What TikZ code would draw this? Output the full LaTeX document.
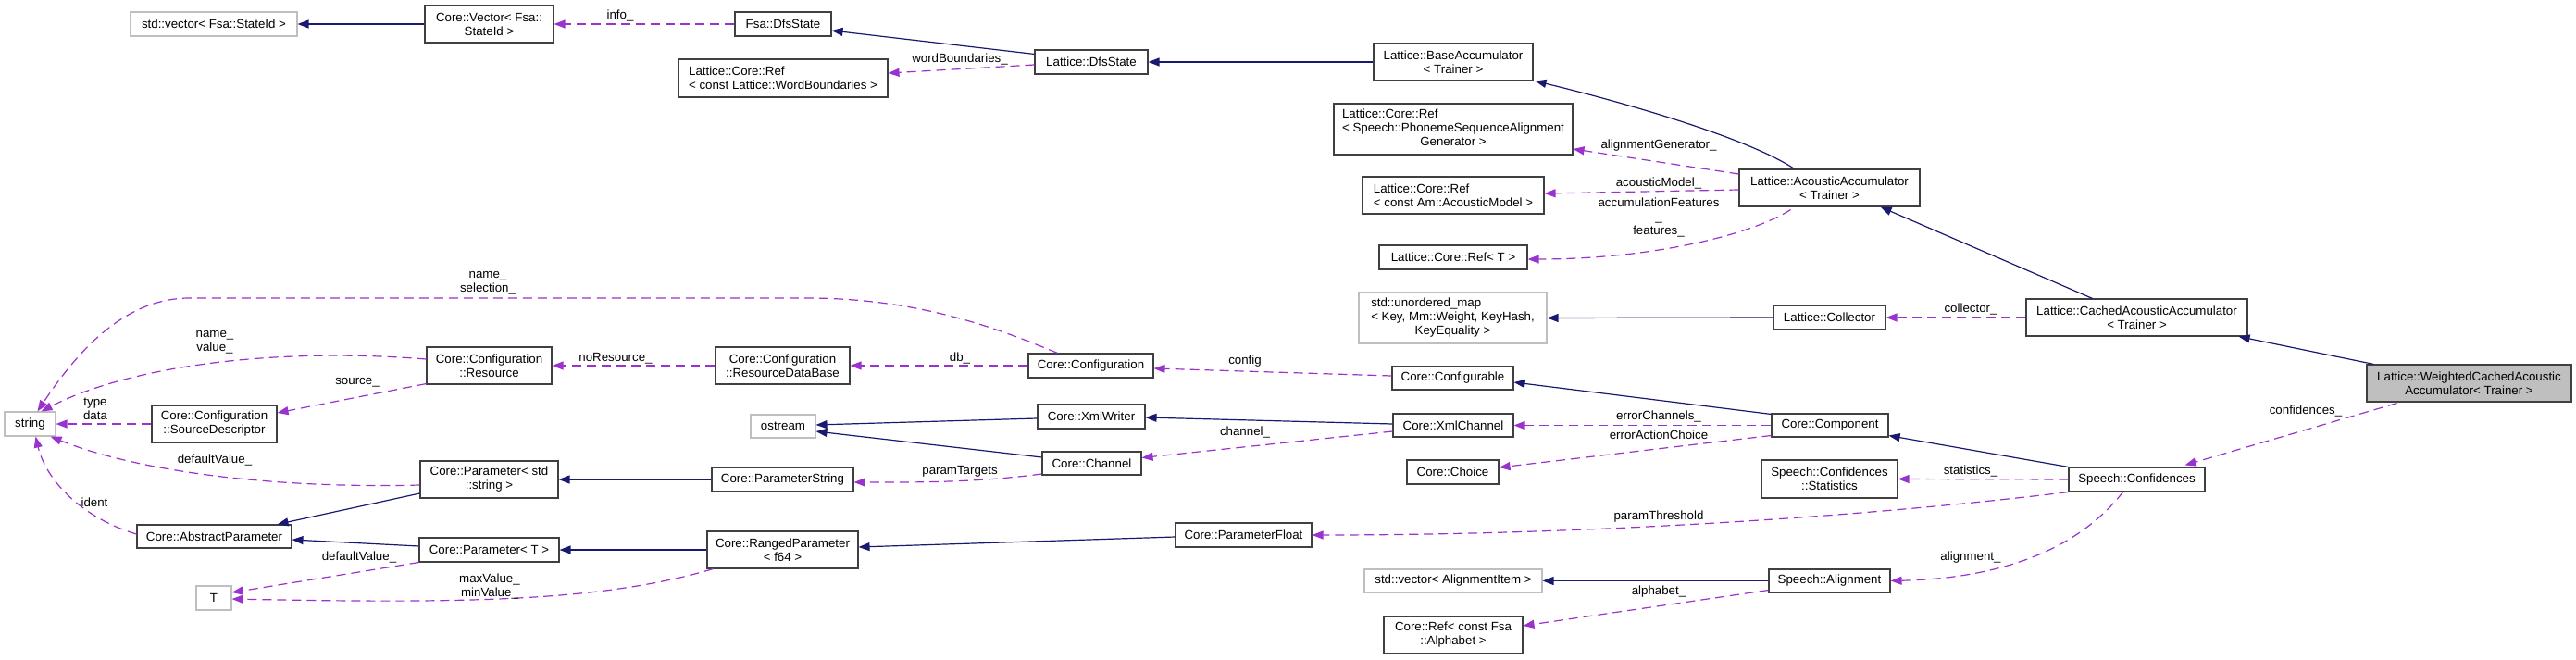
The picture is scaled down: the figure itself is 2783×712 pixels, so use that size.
\documentclass[tikz,border=0pt]{standalone}
\usepackage{fontspec}
\setmainfont{Liberation Sans}
\usetikzlibrary{arrows.meta,calc}
\definecolor{inhcol}{HTML}{191970}
\definecolor{usecol}{HTML}{9A32CD}
\definecolor{boxgray}{HTML}{BFBFBF}
\definecolor{boxline}{HTML}{404040}
\begin{document}
\begin{tikzpicture}[x=1pt,y=-1pt,
  box/.style={draw=boxline, line width=1.1pt, fill=white, inner sep=0pt, align=center,
              font=\fontsize{13.3}{15}\selectfont, text=black},
  ext/.style={box, draw=boxgray},
  sz/.style 2 args={minimum width=#1pt, minimum height=#2pt},
  lbl/.style={inner sep=0pt, align=center, font=\fontsize{13.3}{15}\selectfont, text=black},
  inh/.style={draw=inhcol, line width=1.2pt, -{Triangle[length=12pt,width=9pt]}},
  use/.style={draw=usecol, line width=1.2pt, dash pattern=on 10pt off 6pt, -{Triangle[length=12pt,width=9pt]}},
]
\path[use as bounding box, fill=white] (0,0) rectangle (2783,712);

% ---------- nodes ----------
\node[ext, sz={180}{26}] (vecStateId) at (231,26) {std::vector< Fsa::StateId >};
\node[box, sz={139}{40}] (coreVector) at (528.5,26) {Core::Vector< Fsa::\\StateId >};
\node[box, sz={104}{26}] (fsaDfs) at (846,26) {Fsa::DfsState};
\node[box, sz={226}{41}, align=left] (refWB) at (846,84.5) {Lattice::Core::Ref\\< const Lattice::WordBoundaries >};
\node[box, sz={122}{26}] (latDfs) at (1179,67) {Lattice::DfsState};
\node[box, sz={172}{40}] (baseAcc) at (1570,67) {Lattice::BaseAccumulator\\< Trainer >};
\node[box, sz={258}{55}] (refPSAG) at (1570,139.5) {\begin{tabular}{@{}l@{}}Lattice::Core::Ref\\< Speech::PhonemeSequenceAlignment\\\multicolumn{1}{@{}c@{}}{Generator >}\end{tabular}};
\node[box, sz={196}{40}, align=left] (refAM) at (1570,211) {Lattice::Core::Ref\\< const Am::AcousticModel >};
\node[box, sz={160}{26}] (refT) at (1570,278) {Lattice::Core::Ref< T >};
\node[ext, sz={203}{55}] (umap) at (1569.5,343.5) {\begin{tabular}{@{}l@{}}std::unordered\_map\\< Key, Mm::Weight, KeyHash,\\\multicolumn{1}{@{}c@{}}{KeyEquality >}\end{tabular}};
\node[box, sz={121}{26}] (collector) at (1976.5,343) {Lattice::Collector};
\node[box, sz={195}{40}] (acAcc) at (1976.5,203) {Lattice::AcousticAccumulator\\< Trainer >};
\node[box, sz={239}{40}] (cachedAcc) at (2308.5,343) {Lattice::CachedAcousticAccumulator\\< Trainer >};
\node[box, sz={221}{40}, fill=boxgray] (weighted) at (2667.5,414) {Lattice::WeightedCachedAcoustic\\Accumulator< Trainer >};
\node[box, sz={147}{26}] (conf) at (2308.5,518) {Speech::Confidences};
\node[box, sz={147}{41}] (stats) at (1976.5,517.5) {Speech::Confidences\\::Statistics};
\node[box, sz={126}{25}] (component) at (1977,459.5) {Core::Component};
\node[box, sz={131}{25}] (configurable) at (1569.5,408.5) {Core::Configurable};
\node[box, sz={130}{25}] (xmlChannel) at (1570,459.5) {Core::XmlChannel};
\node[box, sz={99}{26}] (choice) at (1569.5,510) {Core::Choice};
\node[box, sz={147}{26}] (paramFloat) at (1343.5,578) {Core::ParameterFloat};
\node[ext, sz={192}{25}] (vecAlign) at (1570,627.5) {std::vector< AlignmentItem >};
\node[box, sz={131}{25}] (alignment) at (1976.5,627.5) {Speech::Alignment};
\node[box, sz={150}{40}] (refAlpha) at (1570,686) {Core::Ref< const Fsa\\::Alphabet >};
\node[box, sz={135}{26}] (configuration) at (1178.5,395) {Core::Configuration};
\node[box, sz={145}{40}] (rdb) at (845.5,395) {Core::Configuration\\::ResourceDataBase};
\node[box, sz={116}{26}] (xmlWriter) at (1179,450) {Core::XmlWriter};
\node[box, sz={107}{25}] (channel) at (1179.5,500.5) {Core::Channel};
\node[ext, sz={70}{25}] (ostream) at (846,460.5) {ostream};
\node[box, sz={153}{26}] (paramString) at (845.5,518) {Core::ParameterString};
\node[box, sz={163}{40}] (ranged) at (845.5,594) {Core::RangedParameter\\< f64 >};
\node[ext, sz={55}{26}] (string) at (32.5,458) {string};
\node[box, sz={135}{40}] (srcDesc) at (231.5,458) {Core::Configuration\\::SourceDescriptor};
\node[box, sz={135}{40}] (resource) at (528.5,395) {Core::Configuration\\::Resource};
\node[box, sz={149}{40}] (paramStd) at (528.5,518) {Core::Parameter< std\\::string >};
\node[box, sz={167}{25}] (abstractParam) at (231.5,579.5) {Core::AbstractParameter};
\node[box, sz={151}{26}] (paramT) at (528.5,594) {Core::Parameter< T >};
\node[ext, sz={38}{26}] (T) at (231,646) {T};

% ---------- inheritance edges ----------
\draw[inh] (coreVector.west) -- (vecStateId.east);
\draw[inh] ($(latDfs.north west)+(0,5)$) -- ($(fsaDfs.east)+(0,7)$);
\draw[inh] (baseAcc.west) -- (latDfs.east);
\draw[inh] ($(acAcc.north)+(-38,0)$) .. controls (1890,150) and (1760,112) .. ($(baseAcc.south east)+(2,0)$);
\draw[inh] ($(cachedAcc.north)+(-48,0)$) -- ($(acAcc.south)+(55,0)$);
\draw[inh] ($(weighted.north west)+(8,0)$) -- ($(cachedAcc.south east)+(-10,0)$);
\draw[inh] (collector.west) -- (umap.east);
\draw[inh] ($(component.north west)+(0,1)$) -- ($(configurable.east)+(0,4.5)$);
\draw[inh] ($(xmlChannel.west)+(0,-1.5)$) -- ($(xmlWriter.east)+(0,1)$);
\draw[inh] ($(xmlWriter.west)+(0,2)$) -- ($(ostream.east)+(0,-1.5)$);
\draw[inh] ($(channel.west)+(0,-6.5)$) -- ($(ostream.east)+(0,5.5)$);
\draw[inh] (paramString.west) -- (paramStd.east);
\draw[inh] (ranged.west) -- (paramT.east);
\draw[inh] ($(paramFloat.west)+(0,2)$) -- ($(ranged.east)+(0,-3)$);
\draw[inh] ($(paramStd.west)+(0,15)$) -- ($(abstractParam.north east)+(-16,0)$);
\draw[inh] ($(paramT.west)+(0,-4)$) -- ($(abstractParam.east)+(0,3.5)$);
\draw[inh] (conf.north west) -- ($(component.south east)+(0,-2)$);
\draw[inh] (alignment.west) -- (vecAlign.east);

% ---------- usage edges ----------
\draw[use] (fsaDfs.west) -- (coreVector.east);
\draw[use] ($(latDfs.west)+(0,3)$) -- ($(refWB.east)+(0,-5.5)$);
\draw[use] ($(acAcc.west)+(0,-15)$) -- ($(refPSAG.east)+(0,21.5)$);
\draw[use] ($(acAcc.west)+(0,2)$) -- ($(refAM.east)+(0,-2)$);
\draw[use] ($(acAcc.south)+(-42,3)$) .. controls (1890,255) and (1780,280) .. ($(refT.east)+(0,2)$);
\draw[use] (cachedAcc.west) -- (collector.east);
\draw[use] ($(weighted.south west)+(33,1)$) -- ($(conf.north east)+(-22,-2)$);
\draw[use] (conf.west) -- (stats.east);
\draw[use] (conf.south west) .. controls (2000,560) and (1700,578) .. (paramFloat.east);
\draw[use] ($(conf.south)+(-15,0)$) .. controls (2240,600) and (2150,625) .. (alignment.east);
\draw[use] ($(alignment.west)+(0,10)$) -- ($(refAlpha.east)+(0,-10)$);
\draw[use] (component.west) -- (xmlChannel.east);
\draw[use] ($(component.west)+(0,11)$) -- ($(choice.east)+(0,-5)$);
\draw[use] ($(configurable.west)+(0,-2.5)$) -- ($(configuration.east)+(0,3)$);
\draw[use] ($(xmlChannel.west)+(0,6.5)$) -- ($(channel.east)+(0,-6)$);
\draw[use] (configuration.west) -- (rdb.east);
\draw[use] (rdb.west) -- (resource.east);
\draw[use] ($(channel.west)+(0,11.5)$) .. controls (1050,522) and (980,521) .. ($(paramString.east)+(0,3)$);
\draw[use] ($(resource.south west)+(0,-1)$) -- ($(srcDesc.east)+(0,-12)$);
\draw[use] ($(resource.west)+(0,-7)$) .. controls (300,375) and (140,395) .. ($(string.north)+(12,0)$);
\draw[use] ($(configuration.north)+(-36,0)$) .. controls (1090,360) and (1000,322) .. (872,322) -- (205,322) .. controls (140,322) and (90,370) .. ($(string.north)+(8,0)$);
\draw[use] (srcDesc.west) -- (string.east);
\draw[use] ($(paramStd.west)+(0,6)$) .. controls (300,528) and (150,510) .. ($(string.south east)+(-6,0)$);
\draw[use] ($(abstractParam.west)+(0,-2.5)$) .. controls (90,560) and (50,520) .. ($(string.south)+(6,0)$);
\draw[use] (paramT.south west) -- ($(T.east)+(0,-6)$);
\draw[use] ($(ranged.south west)+(7,0)$) .. controls (650,650) and (500,652) .. ($(T.east)+(0,1)$);

% ---------- edge labels ----------
\node[lbl] (lInfo) at (670,17) {info\_};
\node[lbl] (lWB) at (1037,64) {wordBoundaries\_};
\node[lbl] (lAG) at (1792,157) {alignmentGenerator\_};
\node[lbl] (lAM) at (1792,198) {acousticModel\_};
\node[lbl] (lAF) at (1792,234.5) {accumulationFeatures\\\_\\features\_};
\node[lbl] (lCol) at (2129,334) {collector\_};
\node[lbl] (lConf) at (2491,444) {confidences\_};
\node[lbl] (lStat) at (2129,509) {statistics\_};
\node[lbl] (lPT) at (1792,558) {paramThreshold};
\node[lbl] (lAl) at (2129,602) {alignment\_};
\node[lbl] (lAlph) at (1792,639) {alphabet\_};
\node[lbl] (lEC) at (1792,450) {errorChannels\_};
\node[lbl] (lEAC) at (1792,470) {errorActionChoice};
\node[lbl] (lCfg) at (1345,390) {config};
\node[lbl] (lCh) at (1345,467) {channel\_};
\node[lbl] (lDb) at (1037,387) {db\_};
\node[lbl] (lNoRes) at (665,387) {noResource\_};
\node[lbl] (lPTg) at (1037,509) {paramTargets};
\node[lbl] (lSrc) at (386,413) {source\_};
\node[lbl] (lNV) at (232,369.5) {name\_\\value\_};
\node[lbl] (lNS) at (527,305.5) {name\_\\selection\_};
\node[lbl] (lTD) at (103,442) {type\\data};
\node[lbl] (lDV1) at (232,497) {defaultValue\_};
\node[lbl] (lId) at (102,543) {ident};
\node[lbl] (lDV2) at (388,602) {defaultValue\_};
\node[lbl] (lMM) at (529,633.5) {maxValue\_\\minValue\_};
\end{tikzpicture}
\end{document}
